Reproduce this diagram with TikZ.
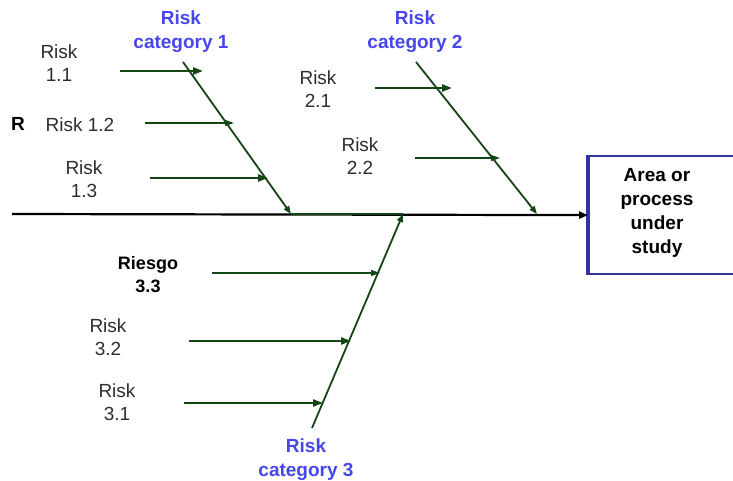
\documentclass[tikz,border=0pt]{standalone}
\usepackage{fontspec}
\setmainfont{Liberation Sans}
\usetikzlibrary{arrows.meta, positioning}
\definecolor{bonegreen}{RGB}{20, 70, 20}
\definecolor{catblue}{RGB}{70, 70, 235}
\definecolor{boxblue}{RGB}{50, 50, 160}
\definecolor{riskgray}{RGB}{45, 45, 45}

\tikzset{
  risk/.style={align=center, text=riskgray, inner sep=0pt, font=\fontsize{19}{23}\selectfont},
  category/.style={align=center, text=catblue, inner sep=0pt, font=\fontsize{19}{24}\selectfont\bfseries},
  bone/.style={bonegreen, line width=1.8pt, -{Triangle[length=8pt,width=6pt]}},
  twig/.style={bonegreen, line width=2.2pt, -{Triangle[length=10pt,width=7pt]}},
  thintwig/.style={bonegreen, line width=1.3pt, -{Triangle[length=9pt,width=6pt]}},
}

\begin{document}
\begin{tikzpicture}[x=1pt, y=-1pt]
    \clip (0,0) rectangle (733,481);

    % Hộp "Area or process under study" bên phải
    \node[draw=boxblue, line width=2.2pt, minimum width=170pt, minimum height=118pt, anchor=north west] (effect) at (588,155) {};
    \draw[boxblue, line width=4pt] (effect.north west) -- (effect.south west); % Cạnh trái đậm hơn
    \node[align=center, inner sep=0pt, font=\fontsize{19}{24}\selectfont\bfseries] (effecttext) at (657,213) {Area or\\process\\under\\study};

    % Trục chính
    \coordinate (tail) at (12,214);
    \draw[line width=2.2pt, -{Triangle[length=9pt,width=7pt]}] (tail) -- (effect.west);

    % Các nhánh chính
    \coordinate (c1top) at (183,62);   \coordinate (c1head) at (291,214);
    \coordinate (c2top) at (416,62);   \coordinate (c2head) at (537,214);
    \coordinate (c3top) at (312,428);  \coordinate (c3head) at (403,214);
    \draw[bonegreen, line width=2.4pt] (c1head) -- (c3head); % Đoạn xanh trên trục
    \draw[bone] (c1top) -- (c1head);
    \draw[bone] (c2top) -- (c2head);
    \draw[bone] (c3top) -- (c3head);

    % Nhãn nhánh
    \node[category] (cat1) at (181,32) {Risk\\category 1};
    \node[category] (cat2) at (415,32) {Risk\\category 2};
    \node[category] (cat3) at (306,460) {Risk\\category 3};

    % Nhánh 1
    \node[risk] (r11) at (59,63) {Risk\\1.1};
    \node[inner sep=0pt, font=\fontsize{19}{22}\selectfont\bfseries] (rmark) at (18,124) {R};
    \node[risk] (r12) at (80,125) {Risk 1.2};
    \node[risk] (r13) at (84,179) {Risk\\1.3};
    \coordinate (t11) at (120,71);   \coordinate (h11) at (203,71);
    \coordinate (t12) at (145,123);  \coordinate (h12) at (234,123);
    \coordinate (t13) at (150,178);  \coordinate (h13) at (268,178);
    \draw[twig] (t11) -- (h11);
    \draw[thintwig] (t12) -- (h12);
    \draw[twig] (t13) -- (h13);

    % Nhánh 2
    \node[risk] (r21) at (318,89) {Risk\\2.1};
    \node[risk] (r22) at (360,156) {Risk\\2.2};
    \coordinate (t21) at (375,88);   \coordinate (h21) at (452,88);
    \coordinate (t22) at (415,158);  \coordinate (h22) at (500,158);
    \draw[twig] (t21) -- (h21);
    \draw[thintwig] (t22) -- (h22);

    % Nhánh 3
    \node[align=center, inner sep=0pt, font=\fontsize{18}{23}\selectfont\bfseries] (r33) at (148,275) {Riesgo\\3.3};
    \node[risk] (r32) at (108,337) {Risk\\3.2};
    \node[risk] (r31) at (117,402) {Risk\\3.1};
    \coordinate (t33) at (212,273);  \coordinate (h33) at (380,273);
    \coordinate (t32) at (189,341);  \coordinate (h32) at (351,341);
    \coordinate (t31) at (184,403);  \coordinate (h31) at (323,403);
    \draw[thintwig] (t33) -- (h33);
    \draw[twig] (t32) -- (h32);
    \draw[twig] (t31) -- (h31);
\end{tikzpicture}
\end{document}
